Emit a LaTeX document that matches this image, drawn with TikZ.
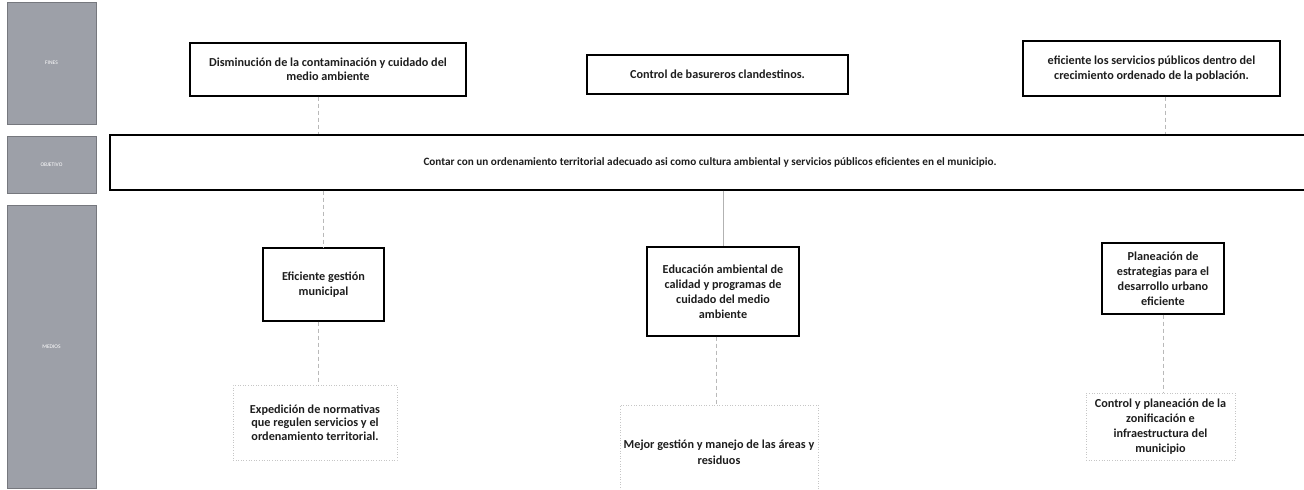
\documentclass[tikz,border=0pt]{standalone}
\usepackage{fontspec}
\setmainfont{Carlito}
\definecolor{panel}{HTML}{9DA0A8}
\definecolor{ink}{HTML}{1E1E1E}
\begin{document}
\begin{tikzpicture}[x=1pt,y=-1pt,
  panelbox/.style={fill=panel,draw=panel!75!black,line width=0.7pt,text=white,font=\fontsize{5.5}{6}\selectfont,inner sep=0pt},
  mainbox/.style={draw=black,line width=1.1pt,fill=white,align=center,text=ink,inner sep=2pt},
  softbox/.style={draw=gray!45,dotted,line width=0.6pt,align=center,text=ink,inner sep=2pt},
  link/.style={draw=gray!55,line width=0.5pt,dash pattern=on 4pt off 3pt},
  solidlink/.style={draw=gray!60,line width=0.5pt},
  ftop/.style={font=\bfseries\fontsize{12.2}{14.5}\selectfont},
  fmed/.style={font=\bfseries\fontsize{12.2}{15}\selectfont},
  fobj/.style={font=\bfseries\fontsize{11.2}{13}\selectfont}
]
\path[clip] (0,0) rectangle (1304,490);
\fill[white] (0,0) rectangle (1304,490);

% side panels
\node[panelbox,minimum width=89pt,minimum height=122pt] (pfines) at (51.5,63) {FINES};
\node[panelbox,minimum width=89pt,minimum height=57pt] (pobj) at (51.5,164.5) {OBJETIVO};
\node[panelbox,minimum width=89pt,minimum height=283pt] (pmed) at (51.5,346.5) {MEDIOS};

% fines
\node[mainbox,ftop,minimum width=276pt,minimum height=53pt] (f1) at (328,69.5)
  {Disminución de la contaminación y cuidado del\\medio ambiente};
\node[mainbox,ftop,minimum width=261pt,minimum height=39pt] (f2) at (717.5,74.5)
  {Control de basureros clandestinos.};
\node[mainbox,ftop,minimum width=257pt,minimum height=55pt] (f3) at (1151.5,68.5)
  {eficiente los servicios públicos dentro del\\crecimiento ordenado de la población.};

% objetivo
\node[mainbox,fobj,minimum width=1200pt,minimum height=55pt] (obj) at (710,162.5)
  {Contar con un ordenamiento territorial adecuado asi como cultura ambiental y servicios públicos eficientes en el municipio.};

% medios
\node[mainbox,fmed,minimum width=121pt,minimum height=73pt] (m1) at (323.5,284.5)
  {Eficiente gestión\\municipal};
\node[mainbox,fmed,minimum width=152pt,minimum height=89pt] (m2) at (723,291.5)
  {Educación ambiental de\\calidad y programas de\\cuidado del medio\\ambiente};
\node[mainbox,fmed,minimum width=122pt,minimum height=71pt] (m3) at (1163,278.5)
  {Planeación de\\estrategias para el\\desarrollo urbano\\eficiente};

% acciones
\node[softbox,font=\bfseries\fontsize{12.2}{13.5}\selectfont,minimum width=164pt,minimum height=75pt] (b1) at (315,422.5)
  {Expedición de normativas\\que regulen servicios y el\\ordenamiento territorial.};
\node[softbox,font=\bfseries\fontsize{12.2}{16}\selectfont,minimum width=198pt,minimum height=94pt] (b2) at (719,452)
  {Mejor gestión y manejo de las áreas y\\residuos};
\node[softbox,fmed,minimum width=149pt,minimum height=67pt] (b3) at (1160.5,426.5)
  {Control y planeación de la\\zonificación e\\infraestructura del\\municipio};

% connectors
\draw[link] (f1.south -| 318,0) -- (obj.north -| 318,0);
\draw[link] (f3.south -| 1165,0) -- (obj.north -| 1165,0);
\draw[link] (obj.south -| m1.north) -- (m1.north);
\draw[solidlink] (obj.south -| m2.north) -- (m2.north);
\draw[link] (m1.south -| 318,0) -- (b1.north -| 318,0);
\draw[link] (m2.south -| 716,0) -- (b2.north -| 716,0);
\draw[link] (m3.south) -- (b3.north -| m3.south);
\end{tikzpicture}
\end{document}
